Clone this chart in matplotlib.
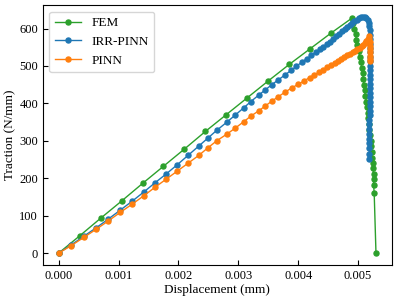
import matplotlib
matplotlib.use("Agg")
import matplotlib.pyplot as plt

plt.rcParams['font.family'] = ['Liberation Serif', 'DejaVu Serif']
plt.rcParams['mathtext.fontset'] = 'stix'

# FEM reference (rise + softening branch)
fem_disp = [0, 0.00035, 0.0007, 0.00105, 0.0014, 0.00175, 0.0021, 0.00245, 0.0028,
            0.00315, 0.0035, 0.00385, 0.0042, 0.00455, 0.0049,
            0.00492, 0.00494, 0.00496, 0.00497, 0.00499, 0.00501, 0.00503, 0.00505,
            0.00506, 0.00508, 0.00509, 0.00510, 0.00511, 0.00512, 0.00514, 0.00515,
            0.00516, 0.00517, 0.00518, 0.00519, 0.00520, 0.00521, 0.00522, 0.00523,
            0.00524, 0.00525, 0.00525, 0.00526, 0.00526, 0.00526, 0.00527, 0.0053]
fem_trac = [0, 46, 93, 139, 186, 232, 278, 325, 370,
            415, 460, 504, 546, 588, 628,
            615, 600, 585, 570, 555, 540, 525, 510,
            495, 480, 465, 450, 435, 420, 405, 390,
            375, 360, 345, 330, 315, 300, 285, 270,
            255, 240, 226, 212, 198, 182, 161, 0]

# IRR-PINN prediction
irr_disp = [0, 0.00021, 0.00042, 0.00063, 0.00083, 0.00103, 0.00123, 0.00142, 0.00161,
            0.0018, 0.00198, 0.00216, 0.00234, 0.00249, 0.00264, 0.00281, 0.00295,
            0.00309, 0.00321, 0.00334, 0.00345, 0.00356, 0.00367, 0.00378, 0.00388,
            0.00397, 0.00406, 0.00414, 0.00422, 0.00429, 0.00436, 0.00442, 0.00448,
            0.00454, 0.00459, 0.00464, 0.00469, 0.00474, 0.00478, 0.00482, 0.00486,
            0.00490, 0.00494, 0.00498, 0.00502, 0.00505, 0.00508, 0.00511, 0.00514,
            0.00516, 0.00518, 0.00519, 0.00520, 0.00520, 0.00520, 0.00520, 0.00520,
            0.00520, 0.00520, 0.00520, 0.00520, 0.00520, 0.00520, 0.00520, 0.00520,
            0.00520, 0.00520, 0.00520, 0.00520, 0.00520, 0.00520, 0.00520, 0.00519,
            0.00519, 0.00519, 0.00519, 0.00519, 0.00519, 0.00519, 0.00519, 0.00519]
irr_trac = [0, 22, 45, 68, 91, 115, 139, 163, 188,
            212, 236, 261, 286, 307, 328, 350, 369,
            388, 405, 422, 436, 450, 463, 476, 488,
            499, 510, 519, 528, 536, 544, 551, 558,
            565, 572, 579, 586, 593, 599, 605, 610,
            615, 620, 624, 628, 630, 631, 630, 627,
            622, 615, 606, 596, 584, 572, 560, 548,
            536, 524, 512, 500, 488, 476, 464, 452,
            440, 428, 416, 404, 392, 380, 368, 356,
            344, 332, 319, 306, 293, 280, 266, 251]

# PINN prediction
pinn_disp = [0, 0.00021, 0.00042, 0.00063, 0.00083, 0.00103, 0.00123, 0.00142, 0.00161,
             0.0018, 0.00198, 0.00216, 0.00234, 0.00249, 0.00264, 0.00281, 0.00295,
             0.00309, 0.00321, 0.00334, 0.00345, 0.00356, 0.00367, 0.00378, 0.00389,
             0.004, 0.0041, 0.00419, 0.00427, 0.00435, 0.00442, 0.00449, 0.00455,
             0.00461, 0.00467, 0.00472, 0.00477, 0.00482, 0.00487, 0.00491, 0.00495,
             0.00499, 0.00503, 0.00506, 0.00509, 0.00512, 0.00514, 0.00516, 0.00518,
             0.00519, 0.0052, 0.0052, 0.0052, 0.0052, 0.0052, 0.0052, 0.0052]
pinn_trac = [0, 20, 42, 64, 86, 109, 131, 153, 176,
             198, 219, 240, 261, 281, 300, 318, 334,
             351, 366, 380, 393, 406, 418, 430, 441,
             451, 460, 469, 476, 483, 490, 496, 502,
             507, 513, 518, 523, 528, 533, 537, 541,
             545, 549, 553, 557, 562, 567, 573, 580,
             572, 563, 554, 545, 536, 527, 518, 512]

fig = plt.figure(figsize=(3.97, 3.02), dpi=100)
ax = fig.add_subplot(111)
fig.subplots_adjust(left=0.108, right=0.987, top=0.983, bottom=0.123)

ax.plot(fem_disp, fem_trac, '-o', color='tab:green', lw=1.0, ms=3.6, label='FEM')
ax.plot(irr_disp, irr_trac, '-o', color='tab:blue', lw=1.0, ms=3.6, label='IRR-PINN')
ax.plot(pinn_disp, pinn_trac, '-o', color='tab:orange', lw=1.0, ms=3.6, label='PINN')

ax.set_xlabel('Displacement (mm)', fontsize=9.5, labelpad=2)
ax.set_ylabel('Traction (N/mm)', fontsize=9.5, labelpad=2)
ax.set_xticks([0, 0.001, 0.002, 0.003, 0.004, 0.005])
ax.set_xticklabels(['0.000', '0.001', '0.002', '0.003', '0.004', '0.005'])
ax.set_yticks([0, 100, 200, 300, 400, 500, 600])
ax.tick_params(direction='in', labelsize=9)
ax.legend(loc='upper left', fontsize=9.5)

fig.savefig('out.png', dpi=100)
